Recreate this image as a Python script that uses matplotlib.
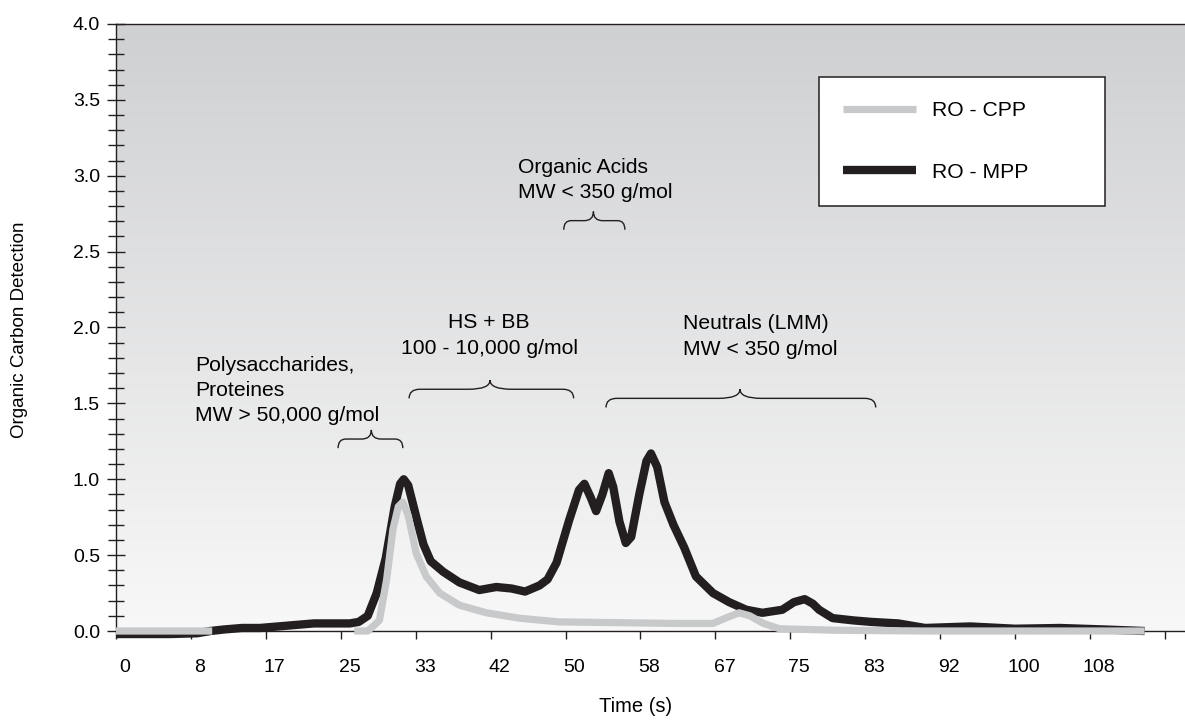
import numpy as np
import matplotlib
matplotlib.use("Agg")
import matplotlib.pyplot as plt
from matplotlib.path import Path
from matplotlib.patches import PathPatch
from matplotlib.transforms import ScaledTranslation
from matplotlib.ticker import MultipleLocator

plt.rcParams["font.family"] = ["Liberation Sans", "DejaVu Sans"]

# RO - MPP (black trace)
mpp_time = [0, 3, 6, 9, 10.5, 12, 14, 16, 18, 20, 22, 24, 26, 27, 28, 29, 30, 31,
            31.6, 32, 32.5, 33.4, 34.2, 35, 36.4, 38.2, 40.4, 42.3, 44, 45.5, 47.1,
            48, 49, 50.4, 51.5, 52.1, 52.8, 53.4, 54.1, 54.8, 55.3, 56, 56.7, 57.3,
            58.2, 59, 59.5, 60.2, 61, 62, 63.2, 64.5, 66.4, 68.2, 70.1, 71.9, 73,
            74.1, 75.4, 76.6, 77.5, 78.2, 79.7, 82, 84, 87, 90, 95, 100, 105, 110, 114.4]
mpp_signal = [-0.02, -0.02, -0.02, -0.015, 0.0, 0.01, 0.02, 0.02, 0.03, 0.04, 0.05,
              0.05, 0.05, 0.06, 0.10, 0.25, 0.48, 0.82, 0.97, 1.00, 0.96, 0.75, 0.57,
              0.46, 0.39, 0.32, 0.27, 0.29, 0.28, 0.26, 0.30, 0.34, 0.45, 0.73, 0.93,
              0.97, 0.88, 0.79, 0.90, 1.04, 0.95, 0.72, 0.58, 0.62, 0.90, 1.12, 1.17,
              1.08, 0.85, 0.70, 0.55, 0.36, 0.25, 0.19, 0.14, 0.12, 0.13, 0.14, 0.19,
              0.21, 0.18, 0.14, 0.085, 0.07, 0.06, 0.05, 0.02, 0.03, 0.015, 0.02, 0.01, 0.0]

# RO - CPP (grey trace); hidden under the black trace between ~11 and ~26 s
cpp_time = [0, 5, 10.7, 11, 26.5, 28, 29.3, 30.1, 30.8, 31.4, 31.9, 32.5, 33.4, 34.5,
            36, 38.2, 41.2, 44.9, 49.3, 56, 62, 66.4, 68, 69.3, 70.5, 72, 73.8, 80,
            90, 100, 114.4]
cpp_signal = [0.0, 0.0, 0.0, np.nan, 0.0, 0.0, 0.07, 0.34, 0.67, 0.82, 0.85, 0.76,
              0.51, 0.36, 0.25, 0.17, 0.12, 0.084, 0.06, 0.055, 0.05, 0.05, 0.09, 0.12,
              0.10, 0.05, 0.015, 0.005, 0.0, 0.0, 0.0]

time_labels = ["0", "8", "17", "25", "33", "42", "50", "58", "67", "75", "83",
               "92", "100", "108"]

region_texts = ["Polysaccharides,\nProteines\nMW > 50,000 g/mol",
                "HS + BB\n100 - 10,000 g/mol",
                "Organic Acids\nMW < 350 g/mol",
                "Neutrals (LMM)\nMW < 350 g/mol"]
# (x, y, ha) for each text and (start, end, tip, level) for each brace
text_layout = [(8.8, 1.584, "left"), (41.5, 1.947, "center"),
               (44.7, 2.974, "left"), (63.1, 1.94, "left")]
brace_layout = [(24.7, 31.9, 28.4, 1.265), (32.6, 50.9, 41.6, 1.593),
                (49.8, 56.6, 53.1, 2.704), (54.5, 84.5, 69.4, 1.533)]

INK = "#231f20"
GREY = "#c8c9cb"


def draw_brace(ax, x0, x1, xtip, y, drop=0.06, rise=0.06):
    w = x1 - x0
    de = min(1.2, 0.12 * w)
    dt = min(2.4, 0.15 * w)
    verts = [(x0, y - drop), (x0, y), (x0 + de, y),
             (xtip - dt, y), (xtip, y), (xtip, y + rise),
             (xtip, y), (xtip + dt, y),
             (x1 - de, y), (x1, y), (x1, y - drop)]
    codes = [Path.MOVETO, Path.CURVE3, Path.CURVE3, Path.LINETO,
             Path.CURVE3, Path.CURVE3, Path.CURVE3, Path.CURVE3,
             Path.LINETO, Path.CURVE3, Path.CURVE3]
    ax.add_patch(PathPatch(Path(verts, codes), fill=False, edgecolor=INK,
                           linewidth=1.0, zorder=4))


fig = plt.figure(figsize=(11.85, 7.2), dpi=100)
ax = fig.add_axes([0.0979, 0.1236, 0.9021, 0.8431])

# grey-to-white background gradient
grad = np.linspace(0, 1, 256).reshape(-1, 1)
cmap = matplotlib.colors.LinearSegmentedColormap.from_list("bg", ["#f8f8f8", "#cfd0d2"])
ax.imshow(grad, extent=[0, 1, 0, 1], transform=ax.transAxes, aspect="auto",
          origin="lower", cmap=cmap, zorder=0)

ax.plot(mpp_time, mpp_signal, color=INK, linewidth=6.0, label="RO - MPP",
        solid_capstyle="butt", solid_joinstyle="round", clip_on=False, zorder=2)
ax.plot(cpp_time, cpp_signal, color=GREY, linewidth=5.2, label="RO - CPP",
        solid_capstyle="butt", solid_joinstyle="round", clip_on=False, zorder=3)

ax.set_xlim(0, 118.9)
ax.set_ylim(0, 4.0)

for txt, (tx, ty, ha) in zip(region_texts, text_layout):
    ax.text(tx, ty, txt, ha=ha, va="center", multialignment=ha, fontsize=15.2,
            linespacing=1.42, color="black", zorder=5)
for (b0, b1, bt, by) in brace_layout:
    draw_brace(ax, b0, b1, bt, by)

# axes styling
ax.spines["right"].set_visible(False)
for side in ["left", "bottom", "top"]:
    ax.spines[side].set_linewidth(1.0)
    ax.spines[side].set_color(INK)

ax.yaxis.set_major_locator(MultipleLocator(0.5))
ax.yaxis.set_minor_locator(MultipleLocator(0.1))
ax.yaxis.set_major_formatter(matplotlib.ticker.FormatStrFormatter("%.1f"))
ax.tick_params(axis="y", which="major", direction="inout", length=13, width=1.0,
               labelsize=14, pad=5, colors=INK, labelcolor="black")
ax.tick_params(axis="y", which="minor", direction="inout", length=11, width=1.0,
               colors=INK)

tick_pos = [k * 25 / 3 for k in range(15)]
ax.set_xticks(tick_pos)
ax.set_xticklabels(time_labels + [""])
ax.tick_params(axis="x", which="major", direction="out", length=6, width=1.0,
               labelsize=14, pad=14, colors=INK, labelcolor="black")
shift = ScaledTranslation(0.09, 0, fig.dpi_scale_trans)
for lab in ax.get_xticklabels():
    lab.set_transform(lab.get_transform() + shift)

fig.text(636 / 1185, 1 - 707 / 720, "Time (s)", ha="center", va="center", fontsize=14.5)
fig.text(20 / 1185, 1 - 330 / 720, "Organic Carbon Detection", ha="center",
         va="center", rotation=90, fontsize=13.5)

handles, labels = ax.get_legend_handles_labels()
leg = ax.legend(handles[::-1], labels[::-1], loc="upper left",
                bbox_to_anchor=(0.691, 0.0, 0.2414, 0.893),
                bbox_transform=fig.transFigure, mode="expand", borderaxespad=0,
                fontsize=15.2, labelspacing=2.0, borderpad=1.15, handlelength=3.45,
                handletextpad=0.76, fancybox=False, framealpha=1, facecolor="white",
                edgecolor=INK)
leg.get_frame().set_linewidth(1.1)

fig.savefig("out.png", dpi=100)
